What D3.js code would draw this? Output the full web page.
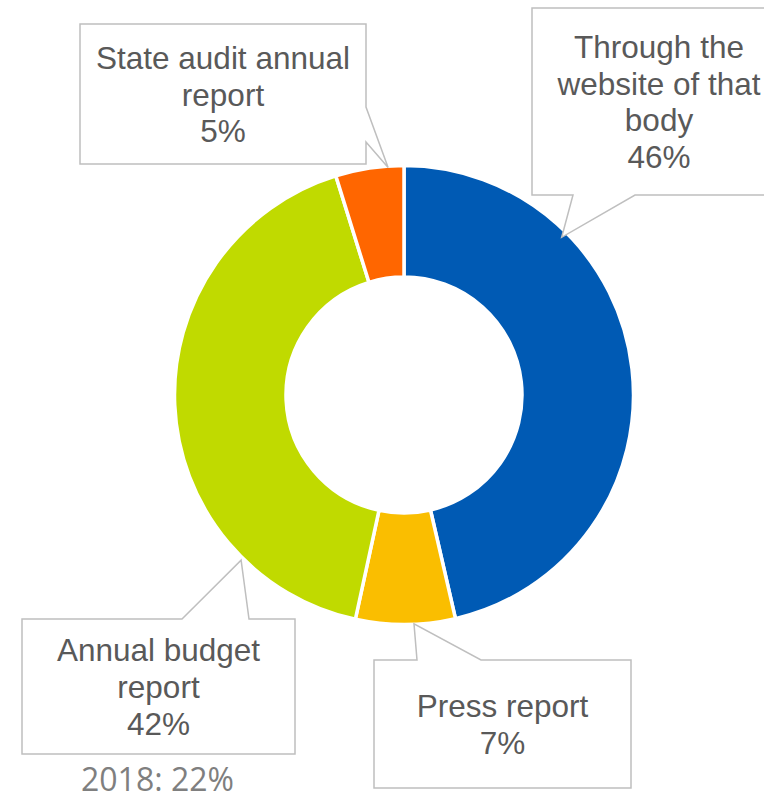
<!DOCTYPE html>
<html>
<head>
<meta charset="utf-8">
<script src="https://cdn.jsdelivr.net/npm/d3@7"></script>
<style>
  body { margin: 0; background: #fff; }
</style>
</head>
<body>
<script>
// data, clockwise from 12 o'clock
var categories = ["Through the website of that body", "Press report", "Annual budget report", "State audit annual report"];
var labelLines = [["Through the", "website of that", "body"], ["Press report"], ["Annual budget", "report"], ["State audit annual", "report"]];
var shares = [46.4, 7.0, 41.8, 4.8];
var colors = ["#005AB4", "#FABE00", "#C0DA00", "#FF6600"];
var note = "2018: 22%";

var width = 764, height = 792;
var cx = 404, cy = 395, outerR = 229.5, innerR = 118;

// callout boxes: rectangle, side of the pointer, pointer base, tip angle (deg)
var callouts = [
    {x0: 532, y0: 8,   x1: 786, y1: 195, side: "bottom", b1: 573, b2: 635, tipAngle: 45,  tipR: 223},
    {x0: 374, y0: 660, x1: 631, y1: 788, side: "top",    b1: 417, b2: 481, tipAngle: 177.5, tipR: 229},
    {x0: 22,  y0: 619, x1: 295, y1: 754, side: "top",    b1: 182, b2: 249, tipAngle: 224.6, tipR: 232},
    {x0: 80,  y0: 24,  x1: 366, y1: 164, side: "right",  b1: 107, b2: 142, tipAngle: -4,  tipR: 228}
];

var svg = d3.select("body").append("svg")
    .attr("width", width)
    .attr("height", height);

var pie = d3.pie().sort(null).value(function(d) { return d; });
var arc = d3.arc().innerRadius(innerR).outerRadius(outerR);

var g = svg.append("g")
    .attr("transform", "translate(" + cx + "," + cy + ")");

g.selectAll("path")
    .data(pie(shares))
    .enter()
    .append("path")
    .attr("d", arc)
    .attr("fill", function(d, i) { return colors[i]; })
    .attr("stroke", "#fff")
    .attr("stroke-width", 3.5);

function calloutPath(c) {
    var a = c.tipAngle * Math.PI / 180;
    var tx = cx + c.tipR * Math.sin(a), ty = cy - c.tipR * Math.cos(a);
    var p = d3.path();
    p.moveTo(c.x0, c.y0);
    if (c.side == "top") { p.lineTo(c.b1, c.y0); p.lineTo(tx, ty); p.lineTo(c.b2, c.y0); }
    p.lineTo(c.x1, c.y0);
    if (c.side == "right") { p.lineTo(c.x1, c.b1); p.lineTo(tx, ty); p.lineTo(c.x1, c.b2); }
    p.lineTo(c.x1, c.y1);
    if (c.side == "bottom") { p.lineTo(c.b2, c.y1); p.lineTo(tx, ty); p.lineTo(c.b1, c.y1); }
    p.lineTo(c.x0, c.y1);
    p.closePath();
    return p.toString();
}

var lineH = 36.7;
callouts.forEach(function(c, i) {
    svg.append("path")
        .attr("d", calloutPath(c))
        .attr("fill", "#fff")
        .attr("stroke", "#bfbfbf")
        .attr("stroke-width", 1.5);

    var lines = labelLines[i].concat([Math.round(shares[i]) + "%"]);
    var mx = (c.x0 + c.x1) / 2, my = (c.y0 + c.y1) / 2;
    var t = svg.append("text")
        .attr("text-anchor", "middle")
        .attr("font-family", "'Liberation Sans', Arial, sans-serif")
        .attr("font-size", "31.5px")
        .attr("fill", "#595959");
    lines.forEach(function(s, j) {
        t.append("tspan")
            .attr("x", mx)
            .attr("y", my + (j - (lines.length - 1) / 2) * lineH + 11.5)
            .text(s);
    });
});

svg.append("text")
    .attr("x", 157.5)
    .attr("y", 791)
    .attr("text-anchor", "middle")
    .attr("font-family", "'Open Sans', sans-serif")
    .attr("font-size", "32px")
    .attr("fill", "#7f7f7f")
    .text(note);
</script>
</body>
</html>
